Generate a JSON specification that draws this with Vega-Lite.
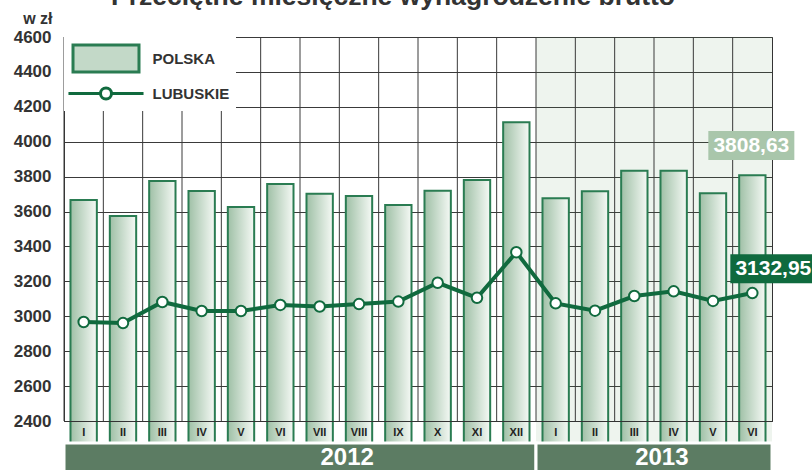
{
  "$schema": "https://vega.github.io/schema/vega-lite/v6.json",
  "width": 708,
  "height": 384,
  "autosize": {"type": "none"},
  "padding": {"left": 64, "top": 37, "right": 40, "bottom": 49},
  "background": "white",
  "title": {
    "text": "Przeciętne miesięczne wynagrodzenie brutto",
    "fontSize": 26.5, "fontWeight": "bold", "color": "#333333", "font": "Liberation Sans",
    "anchor": "middle", "frame": "group", "dx": -25, "dy": 27, "baseline": "alphabetic", "offset": 6
  },
  "config": {
    "font": "Liberation Sans",
    "view": {"stroke": "#333333", "strokeWidth": 1},
    "locale": {"number": {"decimal": ",", "thousands": " ", "grouping": [3], "currency": ["", " zł"]}},
    "axisX": {
      "labelExpr": "split(datum.label, '-')[1]", "ticks": false, "grid": false,
      "labelFontSize": 11, "labelFontWeight": "bold", "labelColor": "#222222",
      "labelPadding": 5, "domainColor": "#333333", "labelAngle": 0, "title": null
    },
    "axisY": {
      "grid": true, "gridColor": "#3a3a3a", "gridOpacity": 1, "ticks": false, "domainColor": "#333333",
      "labelFontSize": 17, "labelFontWeight": "bold", "labelColor": "#333333", "labelPadding": 13,
      "labelOverlap": false, "labelFlush": false, "format": "d",
      "titleAngle": 0, "titleAlign": "right", "titleBaseline": "alphabetic",
      "titleX": -12, "titleY": -14, "titleFontSize": 16, "titleFontWeight": "bold", "titleColor": "#333333"
    }
  },
  "datasets": {
    "d": [
      {"m": "2012-I", "s": "POLSKA", "v": 3666},
      {"m": "2012-II", "s": "POLSKA", "v": 3575},
      {"m": "2012-III", "s": "POLSKA", "v": 3775},
      {"m": "2012-IV", "s": "POLSKA", "v": 3718},
      {"m": "2012-V", "s": "POLSKA", "v": 3626},
      {"m": "2012-VI", "s": "POLSKA", "v": 3758},
      {"m": "2012-VII", "s": "POLSKA", "v": 3702},
      {"m": "2012-VIII", "s": "POLSKA", "v": 3689},
      {"m": "2012-IX", "s": "POLSKA", "v": 3638},
      {"m": "2012-X", "s": "POLSKA", "v": 3719},
      {"m": "2012-XI", "s": "POLSKA", "v": 3781},
      {"m": "2012-XII", "s": "POLSKA", "v": 4111},
      {"m": "2013-I", "s": "POLSKA", "v": 3676},
      {"m": "2013-II", "s": "POLSKA", "v": 3716},
      {"m": "2013-III", "s": "POLSKA", "v": 3834},
      {"m": "2013-IV", "s": "POLSKA", "v": 3834},
      {"m": "2013-V", "s": "POLSKA", "v": 3705},
      {"m": "2013-VI", "s": "POLSKA", "v": 3808.63},
      {"m": "2012-I", "s": "LUBUSKIE", "v": 2967},
      {"m": "2012-II", "s": "LUBUSKIE", "v": 2961},
      {"m": "2012-III", "s": "LUBUSKIE", "v": 3082},
      {"m": "2012-IV", "s": "LUBUSKIE", "v": 3030},
      {"m": "2012-V", "s": "LUBUSKIE", "v": 3030},
      {"m": "2012-VI", "s": "LUBUSKIE", "v": 3065},
      {"m": "2012-VII", "s": "LUBUSKIE", "v": 3056},
      {"m": "2012-VIII", "s": "LUBUSKIE", "v": 3070},
      {"m": "2012-IX", "s": "LUBUSKIE", "v": 3084},
      {"m": "2012-X", "s": "LUBUSKIE", "v": 3192},
      {"m": "2012-XI", "s": "LUBUSKIE", "v": 3106},
      {"m": "2012-XII", "s": "LUBUSKIE", "v": 3367},
      {"m": "2013-I", "s": "LUBUSKIE", "v": 3074},
      {"m": "2013-II", "s": "LUBUSKIE", "v": 3032},
      {"m": "2013-III", "s": "LUBUSKIE", "v": 3116},
      {"m": "2013-IV", "s": "LUBUSKIE", "v": 3143},
      {"m": "2013-V", "s": "LUBUSKIE", "v": 3088},
      {"m": "2013-VI", "s": "LUBUSKIE", "v": 3132.95}
    ],
    "yr": [
      {"n": "2012", "a": "2012-I", "b": "2012-XII", "c": "2012-VIII"},
      {"n": "2013", "a": "2013-I", "b": "2013-VI", "c": "2013-IV"}
    ]
  },
  "layer": [
    {
      "data": {"name": "yr"},
      "transform": [{"filter": "datum.n === '2013'"}],
      "mark": {"type": "rect", "color": "#559155", "opacity": 0.1},
      "encoding": {
        "x": {"field": "a", "type": "ordinal", "bandPosition": 0, "title": null,
              "scale": {"domain": ["2012-I","2012-II","2012-III","2012-IV","2012-V","2012-VI","2012-VII","2012-VIII","2012-IX","2012-X","2012-XI","2012-XII","2013-I","2013-II","2013-III","2013-IV","2013-V","2013-VI"], "paddingInner": 0, "paddingOuter": 0}},
        "x2": {"field": "b", "bandPosition": 1},
        "y": {"datum": 4600, "type": "quantitative", "scale": {"domain": [2400, 4600], "nice": false, "zero": false},
              "axis": {"title": "w zł", "titleFontSize": 16, "values": [2400, 2600, 2800, 3000, 3200, 3400, 3600, 3800, 4000, 4200, 4400, 4600], "labelOverlap": false}},
        "y2": {"datum": 2274}
      }
    },
    {
      "data": {"name": "d"},
      "transform": [{"filter": "datum.s === 'POLSKA'"}],
      "mark": {"type": "rule", "color": "#3a3a3a", "strokeWidth": 1},
      "encoding": {
        "x": {"field": "m", "type": "ordinal", "bandPosition": 0, "title": null}
      }
    },
    {
      "data": {"name": "d"},
      "transform": [{"filter": "datum.s === 'POLSKA'"}],
      "mark": {
        "type": "bar", "width": {"band": 0.67}, "strokeWidth": 2, "stroke": "#2a7c52",
        "color": {"gradient": "linear", "x1": 0, "y1": 0, "x2": 1, "y2": 0,
                  "stops": [{"offset": 0, "color": "#9fc0a6"}, {"offset": 1, "color": "#f5f9f5"}]}
      },
      "encoding": {
        "x": {"field": "m", "type": "ordinal", "title": null},
        "y": {"field": "v", "type": "quantitative",
              "axis": {"title": "w zł", "titleFontSize": 16, "values": [2400, 2600, 2800, 3000, 3200, 3400, 3600, 3800, 4000, 4200, 4400, 4600], "labelOverlap": false}}
      }
    },
    {
      "data": {"name": "d"},
      "transform": [{"filter": "datum.s === 'LUBUSKIE'"}],
      "mark": {"type": "line", "strokeWidth": 4, "stroke": "#106a3e"},
      "encoding": {
        "x": {"field": "m", "type": "ordinal", "title": null},
        "y": {"field": "v", "type": "quantitative",
              "axis": {"title": "w zł", "titleFontSize": 16, "values": [2400, 2600, 2800, 3000, 3200, 3400, 3600, 3800, 4000, 4200, 4400, 4600], "labelOverlap": false}}
      }
    },
    {
      "data": {"name": "d"},
      "transform": [{"filter": "datum.s === 'LUBUSKIE'"}],
      "mark": {"type": "point", "filled": true, "fill": "white", "stroke": "#106a3e", "strokeWidth": 2, "size": 110, "opacity": 1},
      "encoding": {
        "x": {"field": "m", "type": "ordinal", "title": null},
        "y": {"field": "v", "type": "quantitative",
              "axis": {"title": "w zł", "titleFontSize": 16, "values": [2400, 2600, 2800, 3000, 3200, 3400, 3600, 3800, 4000, 4200, 4400, 4600], "labelOverlap": false}}
      }
    },
    {
      "data": {"name": "d"},
      "mark": {"type": "point", "filled": true, "opacity": 0, "strokeWidth": 3},
      "encoding": {
        "x": {"field": "m", "type": "ordinal", "title": null},
        "y": {"field": "v", "type": "quantitative",
              "axis": {"title": "w zł", "titleFontSize": 16, "values": [2400, 2600, 2800, 3000, 3200, 3400, 3600, 3800, 4000, 4200, 4400, 4600], "labelOverlap": false}},
        "shape": {"field": "s", "type": "nominal",
          "scale": {"domain": ["POLSKA", "LUBUSKIE"], "range": ["M-2.4,-0.98H2.4V0.98H-2.4Z", "M-2.73,0H-0.4M0.4,0H2.73M0.4,0A0.4,0.4 0 1 1 -0.4,0A0.4,0.4 0 1 1 0.4,0Z"]},
          "legend": {
            "title": null, "orient": "top-left", "offset": 0, "padding": 6, "rowPadding": 0,
            "fillColor": "white", "symbolSize": 756, "symbolOffset": 20.5, "labelOffset": 31,
            "symbolOpacity": 1, "symbolStrokeWidth": 3,
            "labelFontSize": 15, "labelFontWeight": "bold", "labelColor": "#333333", "labelFont": "Liberation Sans"
          }},
        "fill": {"field": "s", "type": "nominal",
          "scale": {"domain": ["POLSKA", "LUBUSKIE"], "range": ["#c3d9c8", "#ffffff"]},
          "legend": {
            "title": null, "orient": "top-left", "offset": 0, "padding": 6, "rowPadding": 0,
            "fillColor": "white", "symbolSize": 756, "symbolOffset": 20.5, "labelOffset": 31,
            "symbolOpacity": 1, "symbolStrokeWidth": 3,
            "labelFontSize": 15, "labelFontWeight": "bold", "labelColor": "#333333", "labelFont": "Liberation Sans"
          }},
        "stroke": {"field": "s", "type": "nominal",
          "scale": {"domain": ["POLSKA", "LUBUSKIE"], "range": ["#2a7c52", "#106a3e"]},
          "legend": {
            "title": null, "orient": "top-left", "offset": 0, "padding": 6, "rowPadding": 0,
            "fillColor": "white", "symbolSize": 756, "symbolOffset": 20.5, "labelOffset": 31,
            "symbolOpacity": 1, "symbolStrokeWidth": 3,
            "labelFontSize": 15, "labelFontWeight": "bold", "labelColor": "#333333", "labelFont": "Liberation Sans"
          }}
      }
    },
    {
      "data": {"name": "yr"},
      "mark": {"type": "rect", "color": "#5c7c63", "stroke": "white", "strokeWidth": 3},
      "encoding": {
        "x": {"field": "a", "type": "ordinal", "bandPosition": 0, "title": null},
        "x2": {"field": "b", "bandPosition": 1},
        "y": {"datum": 2274, "type": "quantitative",
              "axis": {"title": "w zł", "titleFontSize": 16, "values": [2400, 2600, 2800, 3000, 3200, 3400, 3600, 3800, 4000, 4200, 4400, 4600], "labelOverlap": false}},
        "y2": {"datum": 2090}
      }
    },
    {
      "data": {"name": "yr"},
      "mark": {"type": "text", "color": "white", "fontSize": 24, "fontWeight": "bold", "baseline": "alphabetic", "align": "center"},
      "encoding": {
        "x": {"field": "c", "type": "ordinal", "bandPosition": 0.2, "title": null},
        "y": {"datum": 2148, "type": "quantitative",
              "axis": {"title": "w zł", "titleFontSize": 16, "values": [2400, 2600, 2800, 3000, 3200, 3400, 3600, 3800, 4000, 4200, 4400, 4600], "labelOverlap": false}},
        "text": {"field": "n"}
      }
    },
    {
      "data": {"name": "d"},
      "transform": [{"filter": "datum.m === '2013-VI' && datum.s === 'POLSKA'"}],
      "mark": {"type": "point", "shape": "M-1,-0.337H1V0.337H-1Z", "size": 7396, "filled": true, "color": "#a9c6ab", "opacity": 1, "xOffset": -1, "yOffset": -29.6},
      "encoding": {
        "x": {"field": "m", "type": "ordinal", "title": null},
        "y": {"field": "v", "type": "quantitative",
              "axis": {"title": "w zł", "titleFontSize": 16, "values": [2400, 2600, 2800, 3000, 3200, 3400, 3600, 3800, 4000, 4200, 4400, 4600], "labelOverlap": false}}
      }
    },
    {
      "data": {"name": "d"},
      "transform": [{"filter": "datum.m === '2013-VI' && datum.s === 'POLSKA'"}],
      "mark": {"type": "text", "color": "white", "fontSize": 21, "fontWeight": "bold", "align": "center", "baseline": "middle", "xOffset": -1, "yOffset": -29.6},
      "encoding": {
        "x": {"field": "m", "type": "ordinal", "title": null},
        "y": {"field": "v", "type": "quantitative",
              "axis": {"title": "w zł", "titleFontSize": 16, "values": [2400, 2600, 2800, 3000, 3200, 3400, 3600, 3800, 4000, 4200, 4400, 4600], "labelOverlap": false}},
        "text": {"field": "v", "type": "quantitative", "format": ".2f"}
      }
    },
    {
      "data": {"name": "d"},
      "transform": [{"filter": "datum.m === '2013-VI' && datum.s === 'LUBUSKIE'"}],
      "mark": {"type": "point", "shape": "M-1,-0.337H1V0.337H-1Z", "size": 7396, "filled": true, "color": "#0f6a3e", "opacity": 1, "xOffset": 21, "yOffset": -24.3},
      "encoding": {
        "x": {"field": "m", "type": "ordinal", "title": null},
        "y": {"field": "v", "type": "quantitative",
              "axis": {"title": "w zł", "titleFontSize": 16, "values": [2400, 2600, 2800, 3000, 3200, 3400, 3600, 3800, 4000, 4200, 4400, 4600], "labelOverlap": false}}
      }
    },
    {
      "data": {"name": "d"},
      "transform": [{"filter": "datum.m === '2013-VI' && datum.s === 'LUBUSKIE'"}],
      "mark": {"type": "text", "color": "white", "fontSize": 21, "fontWeight": "bold", "align": "center", "baseline": "middle", "xOffset": 21, "yOffset": -24.3},
      "encoding": {
        "x": {"field": "m", "type": "ordinal", "title": null},
        "y": {"field": "v", "type": "quantitative",
              "axis": {"title": "w zł", "titleFontSize": 16, "values": [2400, 2600, 2800, 3000, 3200, 3400, 3600, 3800, 4000, 4200, 4400, 4600], "labelOverlap": false}},
        "text": {"field": "v", "type": "quantitative", "format": ".2f"}
      }
    }
  ]
}
